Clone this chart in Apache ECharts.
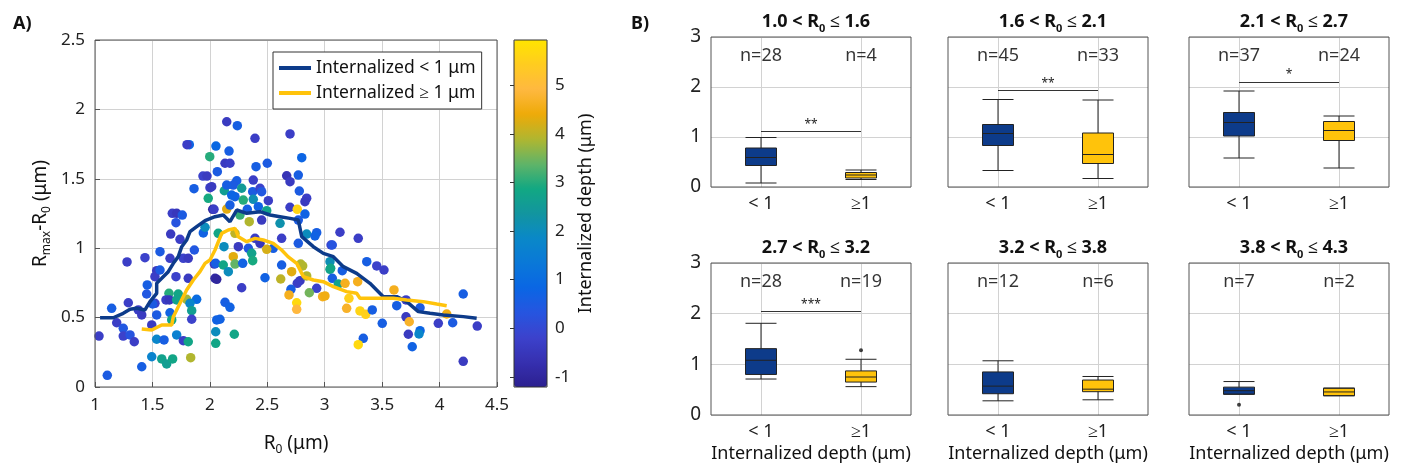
<!DOCTYPE html>
<html>
<head>
<meta charset="utf-8">
<script src="https://cdn.jsdelivr.net/npm/echarts@6/dist/echarts.min.js"></script>
<style>
html, body { margin: 0; padding: 0; background: #fff; }
#chart { width: 1406px; height: 472px; }
</style>
</head>
<body>
<div id="chart"></div>
<script>
// panel A: [R0, Rmax-R0, internalized depth]
const scatterPoints = [
  [1.821,1.746,0.8],[1.801,1.746,-0.3],[1.999,1.659,3.0],[1.940,1.520,-0.2],[1.975,1.520,-0.4],[1.862,1.429,0.6],
  [2.001,1.436,-0.3],[1.986,1.359,2.9],[2.025,1.280,-1.0],[1.673,1.251,-0.3],[1.711,1.251,-0.5],[1.760,1.239,0.5],
  [1.705,1.184,0.3],[1.659,1.102,-0.4],[1.943,1.110,0.7],[1.958,1.151,2.0],[1.740,1.064,-0.3],[1.865,0.987,0.4],
  [1.566,0.975,0.5],[1.653,0.927,-0.3],[1.769,0.927,-0.2],[1.812,0.927,-0.4],[1.279,0.901,-0.3],[1.435,0.932,-0.2],
  [1.537,0.838,-0.4],[1.522,0.795,-0.3],[1.566,0.843,0.5],[1.705,0.795,-0.2],[1.812,0.783,-0.4],[1.455,0.735,0.6],
  [1.450,0.670,0.4],[1.644,0.675,3.0],[1.725,0.670,2.8],[1.798,0.632,3.8],[1.618,0.627,-0.3],[1.647,0.627,-0.5],
  [1.711,0.627,2.7],[1.885,0.632,1.0],[1.522,0.603,-0.2],[1.502,0.598,0.5],[1.827,0.603,1.8],[1.842,0.550,2.6],
  [1.290,0.607,-0.3],[1.145,0.567,0.6],[1.377,0.555,-0.3],[1.407,0.519,-0.4],[1.537,0.519,0.5],[1.653,0.535,0.7],
  [1.668,0.483,2.8],[1.842,0.488,-0.2],[1.189,0.463,-0.3],[1.246,0.423,0.4],[1.494,0.447,-0.4],[1.035,0.367,-0.3],
  [1.246,0.367,-0.2],[1.305,0.375,0.3],[1.342,0.326,-0.3],[1.537,0.344,1.8],[1.601,0.339,0.6],[1.711,0.375,1.6],
  [1.769,0.334,-0.3],[1.812,0.326,2.8],[1.494,0.218,1.7],[1.581,0.202,2.7],[1.624,0.166,2.6],[1.676,0.202,2.8],
  [1.833,0.211,3.9],[1.407,0.146,0.6],[1.107,0.084,0.5],[2.060,0.483,0.7],[2.051,0.398,2.0],[2.051,0.315,2.8],
  [2.045,0.783,-0.9],[2.039,0.886,-0.4],
  [2.147,1.911,-0.4],[2.239,1.883,0.6],[2.393,1.792,-0.3],[2.698,1.823,-0.3],[2.053,1.736,0.9],[2.167,1.700,0.6],
  [2.132,1.612,-0.4],[2.175,1.612,-0.3],[2.065,1.551,0.5],[2.402,1.587,0.6],[2.500,1.612,0.5],[2.800,1.652,0.8],
  [2.669,1.522,-0.6],[2.698,1.479,-0.4],[2.770,1.527,0.6],[2.378,1.491,-0.3],[2.234,1.486,0.6],[2.204,1.455,0.5],
  [2.016,1.443,-0.4],[2.126,1.414,2.6],[2.277,1.432,2.5],[2.373,1.407,0.5],[2.437,1.432,-0.2],[2.451,1.407,0.4],
  [2.779,1.412,0.5],[2.843,1.360,-0.3],[2.828,1.335,-0.4],[2.219,1.371,0.7],[2.190,1.383,0.8],[2.291,1.347,3.0],
  [2.378,1.352,2.1],[2.509,1.342,-0.3],[2.036,1.280,-0.3],[2.147,1.282,4.3],[2.175,1.311,0.6],[2.422,1.299,0.7],
  [2.698,1.295,-0.3],[2.761,1.280,5.6],[2.828,1.246,0.7],[2.326,1.280,0.6],[2.262,1.239,3.1],[2.343,1.191,3.9],
  [2.495,1.270,2.7],[2.451,1.203,-0.4],[2.611,1.179,2.2],[2.770,1.203,0.5],[2.073,1.107,2.8],[2.219,1.107,4.0],
  [2.843,1.102,2.0],[2.930,1.112,0.6],[2.915,1.088,0.7],[2.625,1.071,-0.3],[2.393,1.071,-0.3],[2.437,1.035,-0.5],
  [2.552,0.999,0.6],[2.770,1.035,0.5],[3.055,1.023,-0.2],[2.123,1.011,2.0],[2.248,1.011,-0.4],[2.335,0.999,0.4],
  [2.364,0.963,2.7],[2.373,0.910,2.9],[2.495,0.992,4.2],[2.204,0.939,4.3],[2.051,0.891,0.6],[2.117,0.879,2.8],
  [2.219,0.886,3.4],[2.286,0.891,0.7],[2.161,0.831,2.0],[2.625,0.879,0.6],[2.712,0.831,4.3],[2.791,0.886,3.9],
  [2.808,0.872,3.9],[3.046,0.903,2.1],[3.046,0.848,2.7],[2.060,0.776,-1.0],[2.480,0.787,0.7],[2.617,0.778,4.0],
  [2.785,0.766,-0.4],[2.761,0.747,-0.3],[2.843,0.800,3.9],[2.930,0.711,-0.2],[2.866,0.679,3.5],[2.982,0.651,4.6],
  [2.706,0.704,0.6],[2.689,0.663,4.6],[2.277,0.715,-0.3],[2.756,0.607,5.7],[2.756,0.560,4.9],[2.132,0.610,0.6],
  [2.175,0.574,0.7],[2.088,0.488,0.7],[2.213,0.380,2.8],[2.147,1.455,0.6],
  [3.133,1.115,-0.3],[3.066,1.023,0.3],[3.292,1.071,-0.3],[3.366,0.903,0.6],[3.453,0.872,-0.2],[3.516,0.843,-0.3],
  [3.052,0.855,2.8],[3.153,0.838,0.6],[3.066,0.783,0.6],[3.118,0.742,2.7],[3.177,0.747,4.6],[3.287,0.759,4.6],
  [3.002,0.656,4.5],[3.211,0.639,5.5],[3.603,0.699,4.6],[3.191,0.567,4.7],[3.307,0.548,5.6],[3.357,0.524,5.5],
  [3.414,0.555,0.6],[3.501,0.459,0.6],[3.627,0.586,0.6],[3.708,0.627,-0.3],[3.830,0.571,0.5],[3.708,0.506,-0.4],
  [3.736,0.470,4.7],[3.830,0.406,0.8],[3.821,0.382,1.8],[3.728,0.380,-0.4],[3.762,0.290,0.7],[3.336,0.351,0.6],
  [3.292,0.305,5.7],[3.989,0.459,-0.3],[4.114,0.463,0.5],[4.062,0.526,4.5],[4.206,0.670,0.6],[4.328,0.439,-0.3],
  [4.206,0.185,-0.4]
];

// running medians
const lineShallow = [
  [1.044,0.499],[1.159,0.499],[1.246,0.531],[1.305,0.560],[1.363,0.567],[1.435,0.555],[1.479,0.615],[1.537,0.675],
  [1.537,0.747],[1.581,0.783],[1.638,0.831],[1.682,0.891],[1.725,0.939],[1.755,1.011],[1.798,1.059],[1.827,1.119],
  [1.885,1.155],[1.958,1.198],[2.045,1.227],[2.117,1.239],[2.175,1.191],[2.234,1.275],[2.321,1.251],[2.437,1.263],
  [2.524,1.239],[2.611,1.227],[2.698,1.215],[2.770,1.203],[2.800,1.083],[2.901,1.011],[2.988,0.963],[3.075,0.939],
  [3.162,0.867],[3.278,0.819],[3.394,0.747],[3.510,0.651],[3.627,0.651],[3.714,0.615],[3.815,0.543],[3.917,0.531],
  [4.032,0.519],[4.207,0.507],[4.323,0.495]
];
const lineDeep = [
  [1.407,0.418],[1.494,0.411],[1.581,0.447],[1.668,0.447],[1.682,0.506],[1.740,0.603],[1.798,0.699],[1.856,0.771],
  [1.914,0.831],[1.958,0.891],[2.001,0.915],[2.045,0.987],[2.103,1.107],[2.161,1.131],[2.219,1.143],[2.248,1.083],
  [2.321,1.047],[2.393,1.071],[2.465,1.059],[2.552,1.035],[2.625,0.987],[2.680,0.939],[2.756,0.891],[2.814,0.795],
  [2.901,0.771],[2.988,0.759],[3.075,0.723],[3.191,0.687],[3.278,0.675],[3.307,0.639],[3.453,0.639],[3.597,0.639],
  [3.714,0.627],[3.858,0.615],[3.975,0.598],[4.062,0.586]
];
const depthTicks = [-1, 0, 1, 2, 3, 4, 5];

// panel B: [min, Q1, median, Q3, max] per R0 bin
const binLo = ['1.0', '1.6', '2.1', '2.7', '3.2', '3.8'];
const binHi = ['1.6', '2.1', '2.7', '3.2', '3.8', '4.3'];
const boxCategories = ['< 1', '≥1'];
const boxShallow = [
  [0.08, 0.43, 0.59, 0.78, 0.99],
  [0.33, 0.83, 1.07, 1.25, 1.75],
  [0.58, 1.02, 1.29, 1.49, 1.92],
  [0.71, 0.80, 1.08, 1.31, 1.81],
  [0.28, 0.42, 0.57, 0.85, 1.07],
  [0.41, 0.41, 0.48, 0.55, 0.66]
];
const boxDeep = [
  [0.15, 0.18, 0.24, 0.29, 0.34],
  [0.17, 0.47, 0.65, 1.08, 1.74],
  [0.38, 0.93, 1.13, 1.31, 1.42],
  [0.56, 0.65, 0.75, 0.87, 1.10],
  [0.30, 0.46, 0.51, 0.69, 0.76],
  [0.38, 0.38, 0.455, 0.53, 0.53]
];
const nShallow = [28, 45, 37, 28, 12, 7];
const nDeep = [4, 33, 24, 19, 6, 2];
const sigLevel = [1.11, 1.93, 2.10, 2.04, null, null];
const sigStars = ['**', '**', '*', '***', '', ''];
const outShallow = [[], [], [], [], [], [0.20]];
const outDeep = [[], [], [], [1.28], [], []];

const FONT = 'Noto Sans';
const BLUE = '#0d3b8a';
const YELLOW = '#ffc30b';
const GRIDLINE = '#d2d2d2';
const FRAME = '#555';
// colour scale (evenly spaced from min to max)
const depthColors = ['#2c2090', '#3630b0', '#3c42cc', '#2655e0', '#0a66e4', '#0a78d8', '#0a88c8', '#12959f',
  '#12a882', '#60b468', '#b0b630', '#eeaa08', '#ffb840', '#ffcc20', '#ffe400'];

const subRich = (size, weight) => ({
  a: { fontFamily: FONT, fontSize: size, fontWeight: weight, color: '#111', lineHeight: size + 6 },
  s: { fontFamily: FONT, fontSize: Math.round(size * 0.62), fontWeight: weight, color: '#111', lineHeight: Math.round(size * 0.62) + 2, verticalAlign: 'bottom' }
});

const boxLeft = [711, 948, 1189];
const boxTop = [37, 263];
const boxW = 200;
const boxH = [150, 152];

const grids = [
  { left: 95, top: 40, width: 402, height: 347, show: true, borderColor: FRAME, borderWidth: 1, z: 3 },
  { left: 514, top: 40, width: 33, height: 347, show: true, borderColor: '#333', borderWidth: 1, backgroundColor: 'transparent', z: 10 }
];
const xAxes = [
  {
    type: 'value', gridIndex: 0, min: 1, max: 4.5, interval: 0.5,
    axisLine: { show: false }, axisTick: { inside: true, length: 5, lineStyle: { color: FRAME } },
    splitLine: { lineStyle: { color: GRIDLINE } },
    axisLabel: { fontFamily: FONT, fontSize: 17, color: '#222', margin: 10 },
    name: '{a|R}{s|0}{a| (μm)}', nameLocation: 'middle', nameGap: 44,
    nameTextStyle: { rich: subRich(19, 'normal') }
  },
  { type: 'value', gridIndex: 1, show: false, min: 0, max: 1 }
];
const yAxes = [
  {
    type: 'value', gridIndex: 0, min: 0, max: 2.5, interval: 0.5,
    axisLine: { show: false }, axisTick: { inside: true, length: 5, lineStyle: { color: FRAME } },
    splitLine: { lineStyle: { color: GRIDLINE } },
    axisLabel: { fontFamily: FONT, fontSize: 17, color: '#222', margin: 10 },
    name: '{a|R}{s|max}{a|-R}{s|0}{a| (μm)}', nameLocation: 'middle', nameGap: 42,
    nameTextStyle: { rich: subRich(19, 'normal') }
  },
  {
    type: 'value', gridIndex: 1, position: 'right', min: -1.21, max: 5.93, z: 11,
    axisLine: { show: false },
    axisTick: { inside: true, length: 4, customValues: depthTicks, lineStyle: { color: '#333' } },
    splitLine: { show: false },
    axisLabel: { customValues: depthTicks, fontFamily: FONT, fontSize: 17, color: '#222', margin: 8 },
    name: 'Internalized depth (μm)', nameLocation: 'middle', nameGap: 30, nameRotate: 90,
    nameTextStyle: { fontFamily: FONT, fontSize: 18, color: '#111' }
  }
];
const titles = [
  { text: 'A)', left: 8, top: 10, textStyle: { fontFamily: FONT, fontSize: 18, fontWeight: 'bold', color: '#111' } },
  { text: 'B)', left: 626, top: 10, textStyle: { fontFamily: FONT, fontSize: 18, fontWeight: 'bold', color: '#111' } }
];
const series = [
  {
    type: 'scatter', xAxisIndex: 0, yAxisIndex: 0, data: scatterPoints, symbolSize: 9.5, z: 2,
    itemStyle: { opacity: 1 }, silent: true
  },
  {
    type: 'line', name: 'Internalized < 1 μm', xAxisIndex: 0, yAxisIndex: 0, data: lineShallow,
    showSymbol: false, symbol: 'none', lineStyle: { width: 3.5, color: BLUE }, itemStyle: { color: BLUE }, z: 3
  },
  {
    type: 'line', name: 'Internalized ≥ 1 μm', xAxisIndex: 0, yAxisIndex: 0, data: lineDeep,
    showSymbol: false, symbol: 'none', lineStyle: { width: 3.5, color: YELLOW }, itemStyle: { color: YELLOW }, z: 3
  }
];

for (let i = 0; i < 6; i++) {
  const row = Math.floor(i / 3), col = i % 3;
  const g = grids.length;
  grids.push({ left: boxLeft[col], top: boxTop[row], width: boxW, height: boxH[row], show: true, borderColor: FRAME, borderWidth: 1, z: 3 });
  xAxes.push({
    type: 'category', gridIndex: g, data: boxCategories,
    axisLine: { show: false }, axisTick: { show: false },
    splitLine: { show: true, alignWithLabel: true, lineStyle: { color: GRIDLINE } },
    axisLabel: { fontFamily: FONT, fontSize: 18, color: '#222', margin: 8 },
    name: row === 1 ? 'Internalized depth (μm)' : '', nameLocation: 'middle', nameGap: 30,
    nameTextStyle: { fontFamily: FONT, fontSize: 18, color: '#111' }
  });
  yAxes.push({
    type: 'value', gridIndex: g, min: 0, max: 3, interval: 1,
    axisLine: { show: false }, axisTick: { show: false },
    splitLine: { lineStyle: { color: GRIDLINE } },
    axisLabel: { show: col === 0, fontFamily: FONT, fontSize: 19, color: '#222', margin: 10 }
  });
  titles.push({
    text: '{a|' + binLo[i] + ' < R}{s|0}{a| ≤ ' + binHi[i] + '}',
    left: boxLeft[col] + boxW / 2, top: boxTop[row] - 32, textAlign: 'center',
    textStyle: { rich: subRich(18, 'bold') }
  });
  const box = {
    type: 'boxplot', xAxisIndex: g, yAxisIndex: g, boxWidth: [31, 31], z: 4, silent: true,
    itemStyle: { borderColor: '#222', borderWidth: 1 },
    data: [
      { value: boxShallow[i], itemStyle: { color: BLUE } },
      { value: boxDeep[i], itemStyle: { color: YELLOW } }
    ]
  };
  if (sigLevel[i] !== null) {
    box.markLine = {
      silent: true, symbol: ['none', 'none'],
      lineStyle: { color: '#333', width: 1, type: 'solid' },
      label: { show: true, position: 'middle', formatter: sigStars[i], fontFamily: FONT, fontSize: 12, color: '#222', distance: 1 },
      data: [[{ coord: [boxCategories[0], sigLevel[i]] }, { coord: [boxCategories[1], sigLevel[i]] }]]
    };
  }
  series.push(box);
  series.push({
    type: 'scatter', xAxisIndex: g, yAxisIndex: g, symbolSize: 0, silent: true, z: 5,
    itemStyle: { color: '#000' },
    label: { show: true, position: 'top', distance: 0, formatter: p => 'n=' + p.data[2], fontFamily: FONT, fontSize: 18, color: '#000' },
    data: [[0, 2.45, nShallow[i]], [1, 2.45, nDeep[i]]]
  });
  const outs = outShallow[i].map(v => [0, v]).concat(outDeep[i].map(v => [1, v]));
  series.push({
    type: 'scatter', xAxisIndex: g, yAxisIndex: g, symbolSize: 4, silent: true, z: 5,
    itemStyle: { color: '#111' }, data: outs
  });
}

const chart = echarts.init(document.getElementById('chart'));
chart.setOption({
  animation: false,
  backgroundColor: '#fff',
  title: titles,
  grid: grids,
  xAxis: xAxes,
  yAxis: yAxes,
  legend: {
    data: ['Internalized < 1 μm', 'Internalized ≥ 1 μm'],
    orient: 'vertical', left: 273, top: 52, itemGap: 5, itemWidth: 32, itemHeight: 4, icon: 'rect',
    padding: [6, 6, 6, 6], borderColor: '#333', borderWidth: 1, backgroundColor: '#fff',
    textStyle: { fontFamily: FONT, fontSize: 17.5, color: '#111', lineHeight: 20 }, z: 12
  },
  visualMap: {
    type: 'continuous', min: -1.21, max: 5.93, dimension: 2, seriesIndex: 0,
    calculable: false, hoverLink: false, left: 509, top: 35, padding: 5,
    itemWidth: 33, itemHeight: 347, inRange: { color: depthColors }
  },
  series: series
});
</script>
</body>
</html>
